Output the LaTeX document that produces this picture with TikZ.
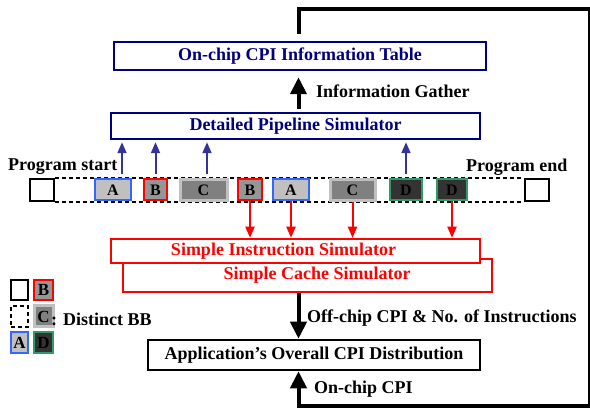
\documentclass[tikz,border=0pt]{standalone}
\usepackage{fontspec}
\setmainfont{Liberation Serif}
\usetikzlibrary{arrows.meta,calc}
\definecolor{navyc}{HTML}{000080}
\definecolor{arrblue}{HTML}{333399}
\definecolor{ablue}{HTML}{3366FF}
\definecolor{dgreen}{HTML}{339966}
\definecolor{lgray}{HTML}{C0C0C0}
\definecolor{mgray}{HTML}{969696}
\definecolor{cgray}{HTML}{808080}
\definecolor{dgray}{HTML}{333333}
\tikzset{
 navybox/.style={draw=navyc, line width=2.5pt, text=navyc, fill=white, inner sep=0pt},
 redbox/.style={draw=red, line width=2.5pt, text=red, fill=white, inner sep=0pt},
 blackbox/.style={draw=black, line width=2.5pt, fill=white, inner sep=0pt},
 bbbox/.style={line width=2pt, minimum height=21pt, inner sep=0pt, font=\bfseries\fontsize{16}{16}\selectfont},
 bbA/.style={bbbox, draw=ablue, fill=lgray},
 bbB/.style={bbbox, draw=red, fill=mgray},
 bbC/.style={bbbox, draw=lgray, fill=cgray, line width=3pt},
 bbD/.style={bbbox, draw=dgreen, fill=dgray},
 endsq/.style={draw, line width=2.5pt, minimum width=24pt, minimum height=22pt, inner sep=0pt},
 dline/.style={line width=2pt, dash pattern=on 4pt off 3pt},
 bigarrow/.style={line width=4pt, -{Triangle[width=16pt,length=17pt]}},
 bluearrow/.style={arrblue, line width=2pt, -{Triangle[width=9pt,length=11pt]}},
 redarrow/.style={red, line width=2pt, -{Triangle[width=9pt,length=11pt]}},
 lbl/.style={inner sep=0pt, anchor=west},
 legfont/.style={font=\bfseries\fontsize{17}{17}\selectfont},
}
\begin{document}
\begin{tikzpicture}[x=1pt,y=-1pt,font=\bfseries\fontsize{18}{20}\selectfont]
\useasboundingbox (0,0) rectangle (590,409);

% main boxes
\node[navybox, minimum width=372pt, minimum height=28pt] (otab) at (300,56) {On-chip CPI Information Table};
\node[navybox, minimum width=369pt, minimum height=26pt] (dps) at (295.5,126) {Detailed Pipeline Simulator};
\node[redbox, minimum width=369pt, minimum height=33pt] (scs) at (307.5,275.5) {\hspace*{19pt}Simple Cache Simulator};
\node[redbox, minimum width=369pt, minimum height=24pt] (sis) at (295.5,251) {Simple Instruction Simulator\hspace*{24pt}};
\node[blackbox, minimum width=332pt, minimum height=30pt] (app) at (314,355) {Application's Overall CPI Distribution};

% program line
\node[endsq] (ps) at (42,190) {};
\node[endsq] (pe) at (537,190) {};
\draw[dline] (ps.north east) -- (pe.north west);
\draw[dline] (ps.south east) -- (pe.south west);
\node[bbA, minimum width=36pt] (a1) at (113,190) {A};
\node[bbB, minimum width=23pt] (b1) at (155.5,190) {B};
\node[bbC, minimum width=47pt] (c1) at (203.5,190) {C};
\node[bbB, minimum width=24pt] (b2) at (250,190) {B};
\node[bbA, minimum width=36pt] (a2) at (291,190) {A};
\node[bbC, minimum width=45pt] (c2) at (352.5,190) {C};
\node[bbD, minimum width=32pt] (d1) at (406,190) {D};
\node[bbD, minimum width=30pt] (d2) at (452,190) {D};

\node[lbl] (pst) at (8,167) {Program start};
\node[lbl] (pen) at (466,167) {Program end};

% blue arrows
\coordinate (a1t) at ([xshift=9pt]a1.north);
\coordinate (c1t) at ([xshift=3.5pt]c1.north);
\draw[bluearrow, shorten <=4pt, shorten >=2pt] (a1t) -- (a1t |- dps.south);
\draw[bluearrow, shorten <=4pt, shorten >=2pt] (b1.north) -- (b1.north |- dps.south);
\draw[bluearrow, shorten <=4pt, shorten >=2pt] (c1t) -- (c1t |- dps.south);
\draw[bluearrow, shorten <=4pt, shorten >=2pt] (d1.north) -- (d1.north |- dps.south);

% red arrows
\draw[redarrow] (b2.south) -- (b2.south |- sis.north);
\draw[redarrow] (a2.south) -- (a2.south |- sis.north);
\draw[redarrow] (c2.south) -- (c2.south |- sis.north);
\draw[redarrow] (d2.south) -- (d2.south |- sis.north);

% big arrows
\coordinate (axis) at ($(app.north)+(-15.5,0)$);
\draw[bigarrow, shorten <=3pt, shorten >=6pt] (axis |- dps.north) -- (axis |- otab.south);
\draw[bigarrow] (axis |- scs.south) -- (axis |- app.north);
\coordinate (fbtop) at ($(axis |- otab.north)+(0,-7)$);
\coordinate (tr) at (589.5,9);
\coordinate (br) at (589.5,406);
\draw[bigarrow] (fbtop) |- (tr) -- (br) -| (axis |- app.south);

\node[lbl] (ig) at (316,91) {Information Gather};
\node[lbl] (oc) at (307,318) {Off-chip CPI \& No. of Instructions};
\node[lbl] (onc) at (314,389) {On-chip CPI};

% legend
\node[endsq, minimum width=17pt, minimum height=20pt] (l1) at (19.5,290) {};
\node[bbB, legfont, minimum width=19pt, minimum height=20pt] (lb) at (43.5,290) {B};
\node[draw, dline, minimum width=17pt, minimum height=21pt, inner sep=0pt] (l2) at (19.5,316.5) {};
\node[bbC, legfont, minimum width=19pt, minimum height=21pt] (lc) at (43.5,316.5) {C};
\node[bbA, legfont, minimum width=17pt, minimum height=21pt] (la) at (19.5,342.5) {A};
\node[bbD, legfont, minimum width=19pt, minimum height=21pt] (ld) at (43.5,342.5) {D};
\node[lbl] (dbb) at (51,319) {: Distinct BB};
\end{tikzpicture}
\end{document}
